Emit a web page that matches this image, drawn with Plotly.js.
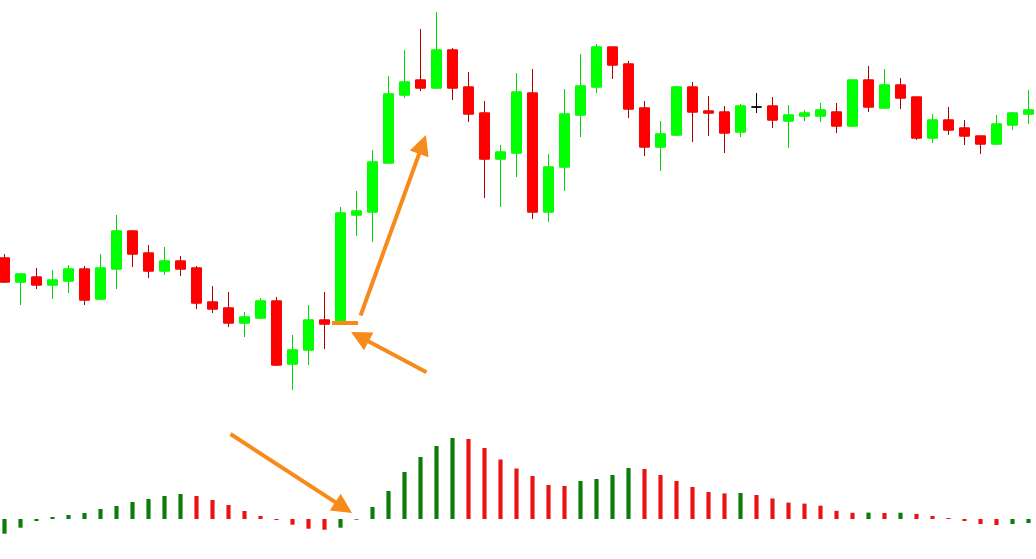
<!DOCTYPE html>
<html><head><meta charset="utf-8">
<script src="https://cdn.plot.ly/plotly-3.0.1.min.js"></script>
<style>html,body{margin:0;padding:0;background:#fff;overflow:hidden}#chart{width:1036px;height:559px}</style>
</head><body><div id="chart"></div>
<script>
// bar numbers (one per session)
const barIndex = Array.from({length: 65}, (_, i) => i);

// candle prices (arbitrary units)
const openP  = [142,118,123,115,119,131,101,131,169,147,129,139,132,98,92,77,82,99,36,50,80,78,185,188,237,305,320,312,350,313,287,241,247,307,188,233,285,313,353,336,292,253,265,313,289,288,268,293,294,279,284,284,288,274,320,292,315,303,262,280,272,264,256,275,286];
const highP  = [146,126,132,130,135,134,146,185,170,155,153,144,134,114,108,88,102,103,65,95,108,193,209,250,324,350,371,388,352,328,299,255,327,331,246,311,346,356,353,339,299,279,314,318,304,294,296,307,303,295,290,297,297,320,334,331,322,303,286,293,280,264,285,288,310];
const lowP   = [117,95,111,101,107,95,100,111,133,122,125,124,91,87,73,63,81,34,10,35,51,77,164,158,237,302,309,311,300,278,202,193,223,181,178,209,263,307,321,282,244,229,264,258,264,247,263,287,272,252,279,278,267,273,288,291,291,260,257,265,255,246,255,270,276];
const closeP = [118,126,115,120,131,100,132,169,146,129,139,131,97,91,77,83,99,35,50,80,76,187,189,238,306,318,312,350,312,286,241,248,308,188,233,286,314,353,335,291,253,266,313,288,287,267,294,293,280,285,287,290,274,320,293,315,302,262,280,270,264,256,276,287,290];

// oscillator histogram values
const oscValues = [-14.7,-8.7,-2,2,4,6,10,13,17,20,23,25,23,19,14,8,3,-1,-5.7,-9.7,-10.7,-8.7,-0.7,12,28,47,62,73,81,80,71,59.5,50.5,43,34,33,38,40,44,51,50,44,38,32,27,25.6,26,24,20.5,16.4,15.4,13.3,8.2,6.2,6.4,6.0,6.3,5.1,3,1,-2,-5,-6,-5,-4];

const C_UP = '#00ff00', C_DN = '#ff0000', C_UPWICK = '#00e000', C_DNWICK = '#b00000';
const C_OSC_UP = '#0a7d0a', C_OSC_DN = '#e81414';
const ORANGE = '#f68b1c';

// split candles: directional vs doji
const dirIdx = barIndex.filter(i => openP[i] !== closeP[i]);
const dojiIdx = barIndex.filter(i => openP[i] === closeP[i]);
const pick = (arr, idx) => idx.map(i => arr[i]);

const wickTrace = {
  type: 'candlestick', x: pick(barIndex, dirIdx),
  open: pick(openP, dirIdx), high: pick(highP, dirIdx), low: pick(lowP, dirIdx), close: pick(closeP, dirIdx),
  increasing: {line: {color: C_UPWICK, width: 1}, fillcolor: C_UP},
  decreasing: {line: {color: C_DNWICK, width: 1}, fillcolor: C_DN},
  hoverinfo: 'skip', showlegend: false
};
const bodyTrace = {
  type: 'candlestick', x: pick(barIndex, dirIdx),
  open: pick(openP, dirIdx), close: pick(closeP, dirIdx),
  high: dirIdx.map(i => Math.max(openP[i], closeP[i])),
  low: dirIdx.map(i => Math.min(openP[i], closeP[i])),
  increasing: {line: {color: C_UP, width: 1}, fillcolor: C_UP},
  decreasing: {line: {color: C_DN, width: 1}, fillcolor: C_DN},
  hoverinfo: 'skip', showlegend: false
};
const dojiTrace = {
  type: 'candlestick', x: pick(barIndex, dojiIdx),
  open: pick(openP, dojiIdx), high: pick(highP, dojiIdx), low: pick(lowP, dojiIdx), close: pick(closeP, dojiIdx),
  increasing: {line: {color: '#000', width: 1}, fillcolor: '#000'},
  decreasing: {line: {color: '#000', width: 1}, fillcolor: '#000'},
  hoverinfo: 'skip', showlegend: false
};
const oscColors = oscValues.map((v, i) => (i === 0 || v > oscValues[i - 1]) ? C_OSC_UP : C_OSC_DN);
const oscTrace = {
  type: 'bar', x: barIndex, y: oscValues, yaxis: 'y2', width: 0.26,
  marker: {color: oscColors, line: {width: 0}}, hoverinfo: 'skip', showlegend: false
};

const arrowBase = {text: '', showarrow: true, arrowcolor: ORANGE, arrowwidth: 4, arrowhead: 2, arrowsize: 1, standoff: 0, startstandoff: 0};
const layout = {
  width: 1036, height: 559,
  margin: {l: 0, r: 0, t: 0, b: 0},
  paper_bgcolor: '#fff', plot_bgcolor: '#fff',
  showlegend: false,
  boxgap: 0.375, boxgroupgap: 0,
  xaxis: {range: [-0.28125, 64.46875], visible: false, rangeslider: {visible: false}, fixedrange: true},
  yaxis: {range: [-159, 400], visible: false, fixedrange: true},
  yaxis2: {range: [-40, 519], overlaying: 'y', visible: false, zeroline: false, fixedrange: true},
  shapes: [
    {type: 'line', xref: 'x', yref: 'y', x0: 20.47, x1: 22.1, y0: 77, y1: 77, line: {color: ORANGE, width: 4}}
  ],
  annotations: [
    Object.assign({}, arrowBase, {xref: 'x', yref: 'y', axref: 'x', ayref: 'y', x: 26.34, y: 265, ax: 22.22, ay: 83}),
    Object.assign({}, arrowBase, {xref: 'x', yref: 'y', axref: 'x', ayref: 'y', x: 21.66, y: 68, ax: 26.47, ay: 27}),
    Object.assign({}, arrowBase, {xref: 'x', yref: 'y2', axref: 'x', ayref: 'y2', x: 21.72, y: 6, ax: 14.03, ay: 86})
  ]
};
Plotly.newPlot('chart', [oscTrace, wickTrace, bodyTrace, dojiTrace], layout, {staticPlot: true, displayModeBar: false});
</script>
</body></html>
